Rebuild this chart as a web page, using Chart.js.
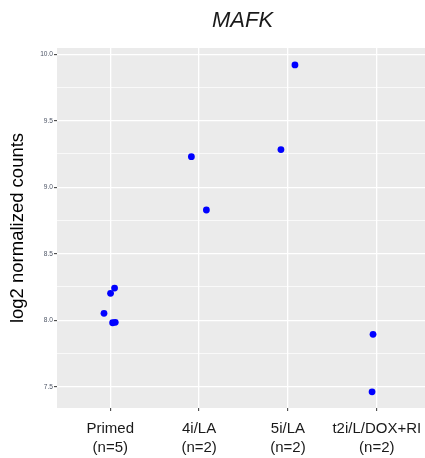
<!DOCTYPE html>
<html>
<head>
<meta charset="utf-8">
<script src="https://cdn.jsdelivr.net/npm/chart.js@4.4.1/dist/chart.umd.min.js"></script>
<style>
  html, body { margin: 0; padding: 0; background: #ffffff; overflow: hidden; }
  #wrap { width: 425px; height: 458px; }
  canvas { display: block; }
</style>
</head>
<body>
<div id="wrap"><canvas id="c" width="425" height="458"></canvas></div>
<script>
// ---- data ----
const categories = ['Primed', '4i/LA', '5i/LA', 't2i/L/DOX+RI'];
const groupSizes = ['(n=5)', '(n=2)', '(n=2)', '(n=2)'];
// group (1-based category position) of each sample
const sampleGroup = [1, 1, 1, 1, 1, 2, 2, 3, 3, 4, 4];
// horizontal jitter of each sample (in category units)
const sampleJitter = [0.048, 0.003, -0.071, 0.026, 0.056, -0.087, 0.082, 0.079, -0.079, -0.042, -0.053];
// log2 normalized counts of each sample
const sampleCounts = [8.242, 8.202, 8.052, 7.981, 7.984, 9.230, 8.829, 9.920, 9.283, 7.894, 7.462];
const yMajorTicks = [7.5, 8.0, 8.5, 9.0, 9.5, 10.0];
const yMinorTicks = [7.75, 8.25, 8.75, 9.25, 9.75];
const chartTitle = 'MAFK';
const yTitle = 'log2 normalized counts';

const points = sampleCounts.map((v, i) => ({ x: sampleGroup[i] + sampleJitter[i], y: v }));
const yAllTicks = yMajorTicks.concat(yMinorTicks).sort((a, b) => a - b);
const isMajor = v => yMajorTicks.some(t => Math.abs(t - v) < 1e-6);

const panelBg = {
  id: 'panelBg',
  beforeDraw(chart) {
    const { ctx, chartArea: a } = chart;
    ctx.save();
    ctx.fillStyle = '#EBEBEB';
    ctx.fillRect(a.left, a.top, a.right - a.left, a.bottom - a.top);
    ctx.restore();
  },
  afterDraw(chart) {
    const { ctx, chartArea: a } = chart;
    ctx.save();
    ctx.fillStyle = '#1a1a1a';
    ctx.font = 'italic 22px "Liberation Sans", Arial, sans-serif';
    ctx.textAlign = 'center';
    ctx.textBaseline = 'middle';
    ctx.fillText(chartTitle, 242.5, 21);
    ctx.restore();
  }
};

new Chart(document.getElementById('c'), {
  type: 'scatter',
  data: {
    datasets: [{
      data: points,
      backgroundColor: '#0000FF',
      borderWidth: 0,
      pointRadius: 3.4,
      pointHoverRadius: 3.4
    }]
  },
  options: {
    responsive: false,
    animation: false,
    events: [],
    layout: { autoPadding: false, padding: { top: 48, right: 0, left: 0, bottom: 0 } },
    plugins: { legend: { display: false }, tooltip: { enabled: false }, title: { display: false } },
    scales: {
      x: {
        type: 'linear',
        min: 0.4,
        max: 4.543,
        afterBuildTicks(scale) { scale.ticks = categories.map((c, i) => ({ value: i + 1 })); },
        afterFit(scale) { scale.height = 50; scale.paddingLeft = 0; scale.paddingRight = 0; },
        ticks: {
          autoSkip: false,
          maxRotation: 0,
          padding: 8,
          color: '#1a1a1a',
          font: { family: '"Liberation Sans", Arial, sans-serif', size: 15, lineHeight: 1.27 },
          callback: (v) => {
            const i = Math.round(v) - 1;
            return [categories[i], groupSizes[i]];
          }
        },
        grid: { color: '#FFFFFF', lineWidth: 1.3, tickLength: 3, tickColor: '#333333', tickWidth: 1 },
        border: { display: false }
      },
      y: {
        min: 7.34,
        max: 10.047,
        afterBuildTicks(scale) { scale.ticks = yAllTicks.map(v => ({ value: v })); },
        afterFit(scale) { scale.width = 57; scale.paddingTop = 0; scale.paddingBottom = 0; },
        title: {
          display: true, text: yTitle, color: '#000000',
          font: { family: '"Liberation Sans", Arial, sans-serif', size: 18.5 },
          padding: { top: 7, bottom: 0 }
        },
        ticks: {
          autoSkip: false, padding: 1, color: '#4D5566',
          font: { family: '"Liberation Sans", Arial, sans-serif', size: 6.6 },
          callback: (v) => isMajor(v) ? v.toFixed(1) : ''
        },
        grid: {
          color: '#FFFFFF',
          lineWidth: ctx => (ctx.tick && isMajor(ctx.tick.value)) ? 1.3 : 0.7,
          tickLength: 3,
          tickColor: ctx => (ctx.tick && isMajor(ctx.tick.value)) ? '#333333' : 'rgba(0,0,0,0)',
          tickWidth: 1
        },
        border: { display: false }
      }
    }
  },
  plugins: [panelBg]
});
</script>
</body>
</html>
